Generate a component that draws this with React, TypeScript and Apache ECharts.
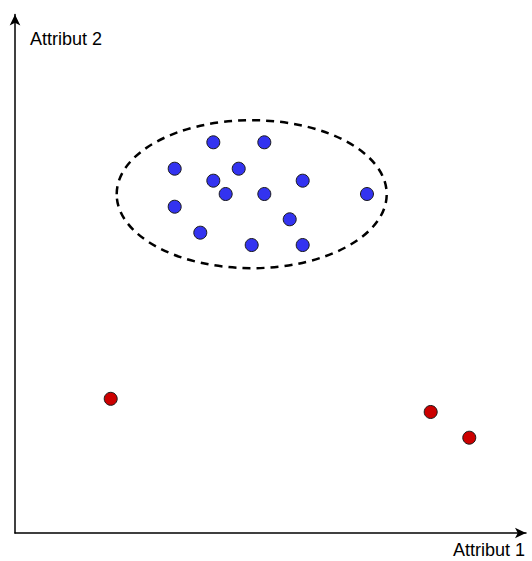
import React, { useEffect, useRef } from "react";
import * as echarts from "echarts";

const blueX = [38.81, 48.79, 31.25, 43.78, 38.81, 56.30, 41.23, 48.79, 68.88, 31.25, 53.76, 36.26, 46.32, 56.30];
const blueY = [75.35, 75.35, 70.26, 70.26, 67.95, 67.95, 65.38, 65.38, 65.38, 62.93, 60.50, 57.92, 55.54, 55.54];
const redX = [18.73, 81.35, 88.90];
const redY = [25.88, 23.34, 18.38];
// ellipse: centerX, centerY, radiusX, radiusY (data units)
const ellipseData = [[46.32, 65.34, 26.42, 14.27]];
const xName = "Attribut 1";
const yName = "Attribut 2";

export default function App() {
  const ref = useRef<HTMLDivElement>(null);
  useEffect(() => {
    const chart = echarts.init(ref.current!, null, { renderer: "svg" });
    const axisCommon = {
      type: "value" as const,
      min: 0,
      max: 100,
      splitLine: { show: false },
      axisTick: { show: false },
      axisLabel: { show: false },
      axisLine: {
        show: true,
        symbol: ["none", "arrow"],
        symbolSize: [8, 11],
        lineStyle: { color: "#000", width: 1.5 },
      },
    };
    chart.setOption({
      animation: false,
      grid: { left: 15, right: 6, top: 14.5, bottom: 28 },
      xAxis: { ...axisCommon },
      yAxis: { ...axisCommon },
      graphic: [
        {
          type: "text",
          left: 30,
          top: 30,
          style: { text: yName, fontSize: 18, fontFamily: "Liberation Sans, Arial, sans-serif", fill: "#000" },
        },
        {
          type: "text",
          left: 453,
          top: 541,
          style: { text: xName, fontSize: 18, fontFamily: "Liberation Sans, Arial, sans-serif", fill: "#000" },
        },
      ],
      series: [
        {
          type: "custom",
          data: ellipseData,
          renderItem: (params: any, api: any) => {
            const c = api.coord([api.value(0), api.value(1)]);
            const s = api.size([api.value(2), api.value(3)]);
            return {
              type: "ellipse",
              shape: { cx: c[0], cy: c[1], rx: s[0], ry: s[1] },
              style: { fill: "none", stroke: "#000", lineWidth: 2.5, lineDash: [8, 6] },
            };
          },
          silent: true,
        },
        {
          type: "scatter",
          data: blueX.map((x, i) => [x, blueY[i]]),
          symbolSize: 13,
          itemStyle: { color: "#3333f0", borderColor: "#1a1a1a", borderWidth: 1, opacity: 1 },
        },
        {
          type: "scatter",
          data: redX.map((x, i) => [x, redY[i]]),
          symbolSize: 13,
          itemStyle: { color: "#cc0000", borderColor: "#1a1a1a", borderWidth: 1, opacity: 1 },
        },
      ],
    });
    return () => chart.dispose();
  }, []);
  return <div ref={ref} style={{ width: 532, height: 561, position: "absolute", left: 0, top: 0 }} />;
}
